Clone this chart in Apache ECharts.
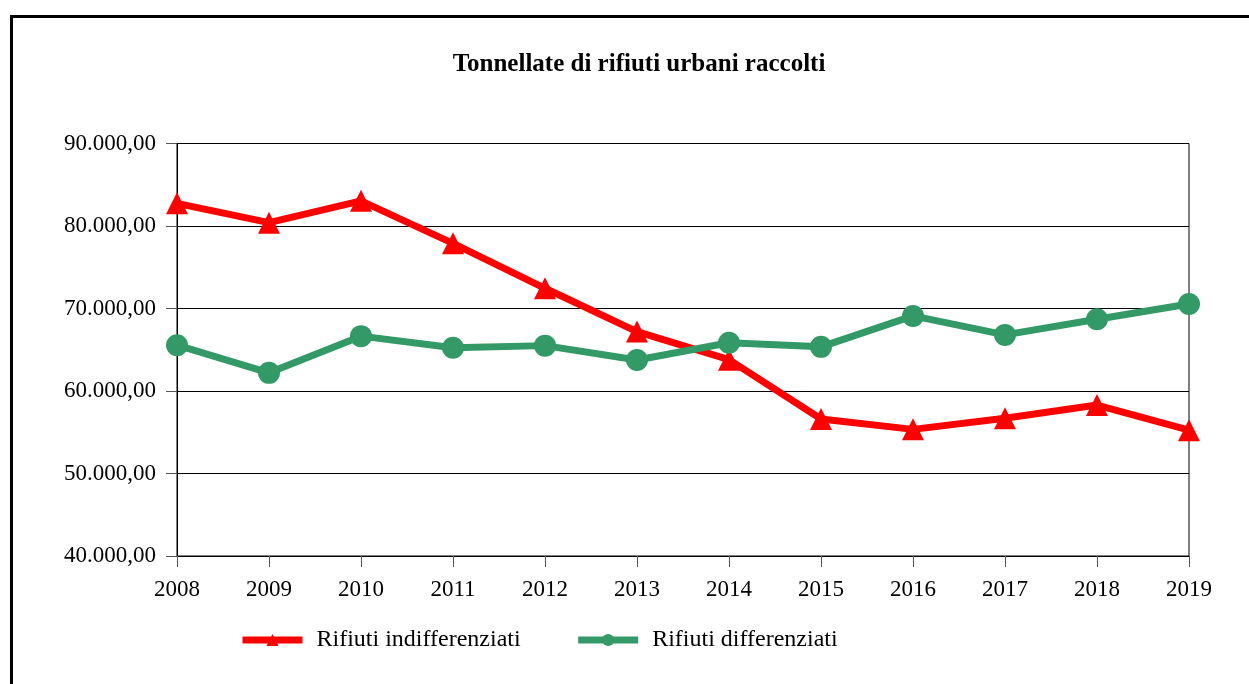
<!DOCTYPE html>
<html>
<head>
<meta charset="utf-8">
<script src="https://cdn.jsdelivr.net/npm/echarts@6/dist/echarts.min.js"></script>
<style>
  html, body { margin: 0; padding: 0; background: #fff; }
  #main { width: 1249px; height: 684px; }
</style>
</head>
<body>
<div id="main"></div>
<script>
// anni
var years = ['2008', '2009', '2010', '2011', '2012', '2013', '2014', '2015', '2016', '2017', '2018', '2019'];
// tonnellate
var indifferenziati = [82750, 80400, 83050, 77900, 72450, 67200, 63800, 56600, 55350, 56700, 58300, 55250];
var differenziati = [65550, 62200, 66650, 65250, 65500, 63750, 65850, 65350, 69100, 66800, 68700, 70550];
var yMin = 40000, yMax = 90000, yStep = 10000;

var font = '"Liberation Serif", "Times New Roman", serif';

function itNumber(v) {
  var s = Math.round(v).toString().replace(/\B(?=(\d{3})+(?!\d))/g, '.');
  return s + ',00';
}

var chart = echarts.init(document.getElementById('main'));

var option = {
  animation: false,
  backgroundColor: '#fff',
  title: {
    text: 'Tonnellate di rifiuti urbani raccolti',
    left: 634,
    textAlign: 'center',
    top: 47,
    textStyle: { fontFamily: font, fontSize: 25, fontWeight: 'bold', color: '#000' }
  },
  legend: {
    left: 234,
    top: 623,
    itemWidth: 60,
    itemHeight: 15,
    itemGap: 54,
    lineStyle: { width: 7 },
    textStyle: { fontFamily: font, fontSize: 24, color: '#000', padding: [0, 0, 0, 9] },
    data: ['Rifiuti indifferenziati', 'Rifiuti differenziati']
  },
  grid: {
    left: 177,
    right: 60,
    top: 143.5,
    bottom: 128,
    show: true,
    borderColor: '#000',
    borderWidth: 1
  },
  xAxis: {
    type: 'category',
    boundaryGap: false,
    data: years,
    axisLine: { lineStyle: { color: '#000', width: 1 } },
    axisTick: { show: true, length: 11, lineStyle: { color: '#555' } },
    axisLabel: { fontFamily: font, fontSize: 23, color: '#000', margin: 22 }
  },
  yAxis: {
    type: 'value',
    min: yMin,
    max: yMax,
    interval: yStep,
    axisLine: { show: true, lineStyle: { color: '#000', width: 1 } },
    axisTick: { show: true, length: 11, lineStyle: { color: '#555' } },
    axisLabel: {
      fontFamily: font, fontSize: 23, color: '#000', margin: 21,
      formatter: itNumber
    },
    splitLine: { show: true, lineStyle: { color: '#000', width: 1 } }
  },
  series: [
    {
      name: 'Rifiuti indifferenziati',
      type: 'line',
      data: indifferenziati,
      symbol: 'triangle',
      symbolSize: 22,
      color: '#FF0000',
      lineStyle: { width: 7, color: '#FF0000' },
      itemStyle: { color: '#FF0000' }
    },
    {
      name: 'Rifiuti differenziati',
      type: 'line',
      data: differenziati,
      symbol: 'circle',
      symbolSize: 22,
      color: '#339966',
      lineStyle: { width: 7, color: '#339966' },
      itemStyle: { color: '#339966' }
    }
  ],
  graphic: [{
    type: 'rect',
    left: 9,
    top: 14,
    shape: { width: 1300, height: 700 },
    style: { fill: 'none', stroke: '#000', lineWidth: 3 },
    silent: true
  }]
};

chart.setOption(option);
</script>
</body>
</html>
